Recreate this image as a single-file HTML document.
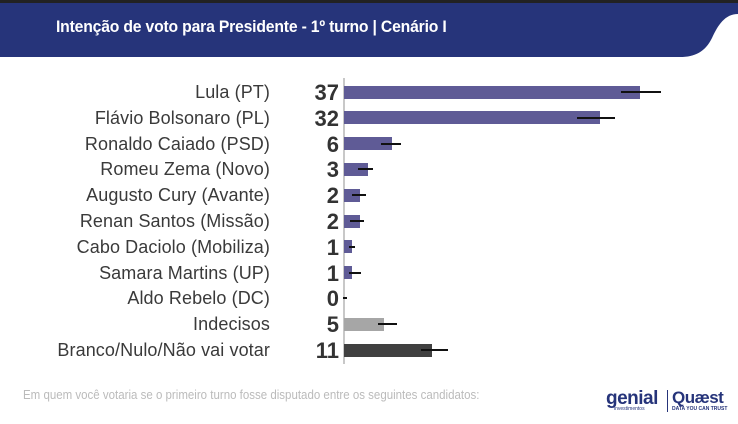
<!DOCTYPE html>
<html><head><meta charset="utf-8"><style>
body{margin:0;width:738px;height:424px;background:#fff;overflow:hidden;position:relative;font-family:"Liberation Sans",sans-serif}
.hdr{position:absolute;left:0;top:0;width:738px;height:60px}
.t{position:absolute;left:56px;top:17px;color:#fff;font-size:17px;font-weight:bold;transform:scaleX(0.925);transform-origin:left;letter-spacing:-0.2px;white-space:nowrap}
.lab{position:absolute;right:468px;font-size:18px;color:#3a3a3a;white-space:nowrap;line-height:20px;letter-spacing:0.1px}
.num{position:absolute;right:399px;font-size:22px;font-weight:bold;color:#333;line-height:20px}
.bar{position:absolute;left:344px;height:13px}
.err{position:absolute;height:2px;background:#111}
.foot{position:absolute;left:23px;top:388px;font-size:12.5px;color:#bbb;transform:scaleX(0.92);transform-origin:left;white-space:nowrap}
</style></head><body>
<svg class="hdr" width="738" height="60"><rect x="0" y="0" width="738" height="3" fill="#222"/><path d="M0 3 H738 V14 C725 14 718 25 712 38 C705 52 695 57 680 57 H0 Z" fill="#26347a"/></svg>
<div class="t">Intenção de voto para Presidente - 1º turno | Cenário I</div>
<div style="position:absolute;left:343px;top:78px;width:2px;height:286px;background:#c8c8c8"></div>
<div id="c"></div>
<div class="foot">Em quem você votaria se o primeiro turno fosse disputado entre os seguintes candidatos:</div>
<div style="position:absolute;left:606px;top:388px;font-size:19px;font-weight:bold;color:#26347a;letter-spacing:-0.5px">genial</div>
<div style="position:absolute;left:606px;top:406px;font-size:5px;color:#26347a;padding-left:8px">investimentos</div>
<div style="position:absolute;left:667px;top:390px;width:1px;height:22px;background:#26347a"></div>
<div style="position:absolute;left:672px;top:388px;font-size:17px;font-weight:bold;color:#26347a;letter-spacing:-0.5px">Quæst</div>
<div style="position:absolute;left:672px;top:406px;font-size:5px;color:#26347a;font-weight:bold">DATA YOU CAN TRUST</div>
<script>
var d=[["Lula (PT)",37,640,621,661,"#5f5b96"],["Flávio Bolsonaro (PL)",32,600,577,615,"#5f5b96"],["Ronaldo Caiado (PSD)",6,392,381,401,"#5f5b96"],["Romeu Zema (Novo)",3,368,358,373,"#5f5b96"],["Augusto Cury (Avante)",2,360,352,366,"#5f5b96"],["Renan Santos (Missão)",2,360,350,364,"#5f5b96"],["Cabo Daciolo (Mobiliza)",1,352,349,355,"#5f5b96"],["Samara Martins (UP)",1,352,349,361,"#5f5b96"],["Aldo Rebelo (DC)",0,344,343,347,"#5f5b96"],["Indecisos",5,384,378,397,"#a6a6a6"],["Branco/Nulo/Não vai votar",11,432,421,448,"#404040"]];
var h="";d.forEach(function(r,i){var c=92+i*25.8;
h+='<div class="lab" style="top:'+(c-10)+'px">'+r[0]+'</div><div class="num" style="top:'+(c-9)+'px">'+r[1]+'</div>';
if(r[2]>344)h+='<div class="bar" style="top:'+(c-6.5)+'px;width:'+(r[2]-344)+'px;background:'+r[5]+'"></div>';
h+='<div class="err" style="top:'+(c-1)+'px;left:'+r[3]+'px;width:'+(r[4]-r[3])+'px"></div>';});
document.getElementById("c").innerHTML=h;
</script>
</body></html>
